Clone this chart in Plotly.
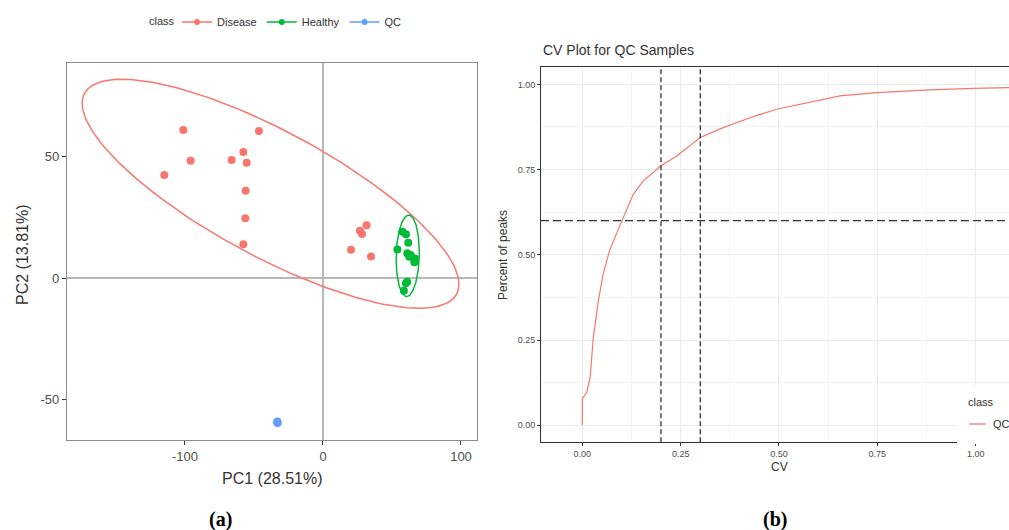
import numpy as np
import plotly.graph_objects as go

W, H = 1009, 530

# ---------------- Panel (a): PCA scores ----------------
disease_pc1 = [-101.2, -46.4, -57.7, -95.9, -66.2, -55.3, -115.0, -56.0, -56.3, -57.7,
               31.6, 26.8, 28.3, 20.3, 34.8]
disease_pc2 = [61.0, 60.6, 52.0, 48.4, 48.7, 47.6, 42.5, 36.0, 24.7, 14.0,
               21.9, 19.6, 18.2, 11.8, 9.0]
healthy_pc1 = [57.7, 60.1, 61.8, 53.9, 61.1, 63.5, 66.7, 66.2, 62.5, 60.1, 61.0, 58.6]
healthy_pc2 = [19.2, 18.1, 14.6, 11.9, 10.3, 9.6, 8.2, 6.6, 8.9, -2.0, -1.4, -5.1]
qc_pc1 = [-33.2, -33.0, -32.9]
qc_pc2 = [-58.9, -59.2, -59.5]

# 95% confidence ellipses (centre and shape matrix)
disease_ell_center = [-38.0, 34.8]
disease_ell_shape = [[18632.0, -5078.0], [-5078.0, 2220.0]]
healthy_ell_center = [61.4, 9.3]
healthy_ell_shape = [[70.6, 12.0], [12.0, 280.6]]

pc1_ticks = [-100, 0, 100]
pc2_ticks = [-50, 0, 50]

# ---------------- Panel (b): CV curve ----------------
cv_values = [0, 0, 0.011, 0.020, 0.028, 0.041, 0.053, 0.070, 0.100, 0.130, 0.155, 0.200,
             0.240, 0.300, 0.358, 0.426, 0.494, 0.570, 0.655, 0.740, 0.867, 0.994, 1.10]
pct_peaks = [0, 0.078, 0.095, 0.141, 0.258, 0.366, 0.444, 0.515, 0.598, 0.678, 0.717, 0.761,
             0.790, 0.844, 0.873, 0.902, 0.927, 0.946, 0.966, 0.975, 0.983, 0.988, 0.991]
cv_cutoffs = [0.2, 0.3]
pct_cutoff = [0.6]
cv_ticks = [0.0, 0.25, 0.5, 0.75, 1.0]
pct_ticks = [0.0, 0.25, 0.5, 0.75, 1.0]

RED, GREEN, BLUE = "#F8766D", "#00BA38", "#619CFF"
FONT = "Liberation Sans"


def px(x):
    return x / W


def py(y):
    return 1 - y / H


def ellipse(center, shape, n=240):
    L = np.linalg.cholesky(np.array(shape))
    t = np.linspace(0, 2 * np.pi, n)
    pts = L @ np.vstack([np.cos(t), np.sin(t)])
    return center[0] + pts[0], center[1] + pts[1]


fig = go.Figure()

# ellipses
ex, ey = ellipse(disease_ell_center, disease_ell_shape)
fig.add_trace(go.Scatter(x=ex, y=ey, mode="lines", line=dict(color=RED, width=1.5),
                         showlegend=False, hoverinfo="skip", xaxis="x", yaxis="y"))
ex, ey = ellipse(healthy_ell_center, healthy_ell_shape)
fig.add_trace(go.Scatter(x=ex, y=ey, mode="lines", line=dict(color=GREEN, width=1.5),
                         showlegend=False, hoverinfo="skip", xaxis="x", yaxis="y"))

# points
for name, xs, ys, col in [("Disease", disease_pc1, disease_pc2, RED),
                          ("Healthy", healthy_pc1, healthy_pc2, GREEN),
                          ("QC", qc_pc1, qc_pc2, BLUE)]:
    fig.add_trace(go.Scatter(x=xs, y=ys, mode="markers", name=name, legendgroup=name,
                             marker=dict(color=col, size=8), showlegend=False,
                             xaxis="x", yaxis="y"))
    # legend key (point + line like ggplot)
    fig.add_trace(go.Scatter(x=[None], y=[None], mode="lines+markers", name=name,
                             legendgroup=name, marker=dict(color=col, size=6),
                             line=dict(color=col, width=1.5), legend="legend",
                             xaxis="x", yaxis="y"))

# CV curve
fig.add_trace(go.Scatter(x=cv_values, y=pct_peaks, mode="lines", name="QC",
                         line=dict(color=RED, width=1.2), showlegend=False,
                         xaxis="x2", yaxis="y2"))

shapes = []
for c in cv_cutoffs:
    shapes.append(dict(type="line", xref="x2", yref="y2 domain", x0=c, x1=c, y0=0, y1=1,
                       line=dict(color="#333333", width=1.3, dash="5px,3px"), layer="above"))
for c in pct_cutoff:
    shapes.append(dict(type="line", xref="x2 domain", yref="y2", x0=0, x1=1, y0=c, y1=c,
                       line=dict(color="#333333", width=1.3, dash="8px,4px"), layer="above"))
# legend box of panel (b): white background + key line
shapes.append(dict(type="rect", xref="paper", yref="paper", x0=px(957), x1=1.0,
                   y0=py(444), y1=py(385), fillcolor="white", line=dict(width=0), layer="above"))
shapes.append(dict(type="line", xref="paper", yref="paper", x0=px(969), x1=px(986),
                   y0=py(424), y1=py(424), line=dict(color=RED, width=1.2), layer="above"))

annotations = [
    dict(text="class", x=px(147), y=py(21), xanchor="left",
         font=dict(size=11, color="#333333")),
    dict(text="PC1 (28.51%)", x=px(272), y=py(478), font=dict(size=16, color="#333333")),
    dict(text="PC2 (13.81%)", x=px(22), y=py(255), textangle=-90,
         font=dict(size=16, color="#333333")),
    dict(text="CV Plot for QC Samples", x=px(541), y=py(50), xanchor="left",
         font=dict(size=14, color="#333333")),
    dict(text="Percent of peaks", x=px(503), y=py(255), textangle=-90,
         font=dict(size=12, color="#333333")),
    dict(text="CV", x=px(779), y=py(467), font=dict(size=12, color="#333333")),
    dict(text="class", x=px(966), y=py(402), xanchor="left",
         font=dict(size=11, color="#333333")),
    dict(text="QC", x=px(991), y=py(424), xanchor="left",
         font=dict(size=11, color="#333333")),
    dict(text="<b>(a)</b>", x=px(220), y=py(519),
         font=dict(size=20, color="black", family="Liberation Serif")),
    dict(text="<b>(b)</b>", x=px(775), y=py(519),
         font=dict(size=20, color="black", family="Liberation Serif")),
]
for a in annotations:
    a.update(xref="paper", yref="paper", showarrow=False)
    a.setdefault("xanchor", "center")
    a.setdefault("yanchor", "middle")

fig.update_layout(
    width=W, height=H,
    margin=dict(l=0, r=0, t=0, b=0, autoexpand=False),
    paper_bgcolor="white", plot_bgcolor="white",
    font=dict(family=FONT, color="#333333"),
    showlegend=True,
    legend=dict(orientation="h", x=px(177), y=py(22), xanchor="left", yanchor="middle",
                font=dict(size=11, color="#333333"), itemwidth=30, bgcolor="rgba(0,0,0,0)",
                tracegroupgap=0),
    xaxis=dict(domain=[px(67), px(477)], range=[-185.5, 111.6], anchor="y",
               tickvals=pc1_ticks, ticktext=[str(v) for v in pc1_ticks],
               showgrid=False, zeroline=True, zerolinecolor="#b8b8b8", zerolinewidth=1.5,
               showline=True, mirror=True, linecolor="#8c8c8c", linewidth=1.3,
               ticks="outside", ticklen=4, tickcolor="#333333",
               tickfont=dict(size=13, color="#4d4d4d")),
    yaxis=dict(domain=[py(440), py(63)], range=[-66.5, 88.6], anchor="x",
               tickvals=pc2_ticks, ticktext=[str(v) for v in pc2_ticks],
               showgrid=False, zeroline=True, zerolinecolor="#b8b8b8", zerolinewidth=1.5,
               showline=True, mirror=True, linecolor="#8c8c8c", linewidth=1.3,
               ticks="outside", ticklen=4, tickcolor="#333333",
               tickfont=dict(size=13, color="#4d4d4d")),
    xaxis2=dict(domain=[px(541), 1.0], range=[-0.105, 1.0847], anchor="y2",
                tickvals=cv_ticks, ticktext=["%.2f" % v for v in cv_ticks],
                showgrid=True, gridcolor="#ebebeb", gridwidth=1, zeroline=False,
                minor=dict(tickvals=[0.125, 0.375, 0.625, 0.875], showgrid=True,
                           gridcolor="#f4f4f4", gridwidth=0.8),
                showline=True, mirror=True, linecolor="#333333", linewidth=1,
                ticks="outside", ticklen=3, tickcolor="#333333",
                tickfont=dict(size=9, color="#4d4d4d")),
    yaxis2=dict(domain=[py(442.3), py(67.3)], range=[-0.05, 1.05], anchor="x2",
                tickvals=pct_ticks, ticktext=["%.2f" % v for v in pct_ticks],
                showgrid=True, gridcolor="#ebebeb", gridwidth=1, zeroline=False,
                minor=dict(tickvals=[0.125, 0.375, 0.625, 0.875], showgrid=True,
                           gridcolor="#f4f4f4", gridwidth=0.8),
                showline=True, mirror=False, linecolor="#333333", linewidth=1,
                ticks="outside", ticklen=3, tickcolor="#333333",
                tickfont=dict(size=9, color="#4d4d4d")),
    shapes=shapes,
    annotations=annotations,
)

fig.write_html(
    "out.html",
    config={"displayModeBar": False},
    post_script="document.body.style.margin='0';"
                "document.documentElement.style.overflow='hidden';"
                "document.body.style.overflow='hidden';",
)
